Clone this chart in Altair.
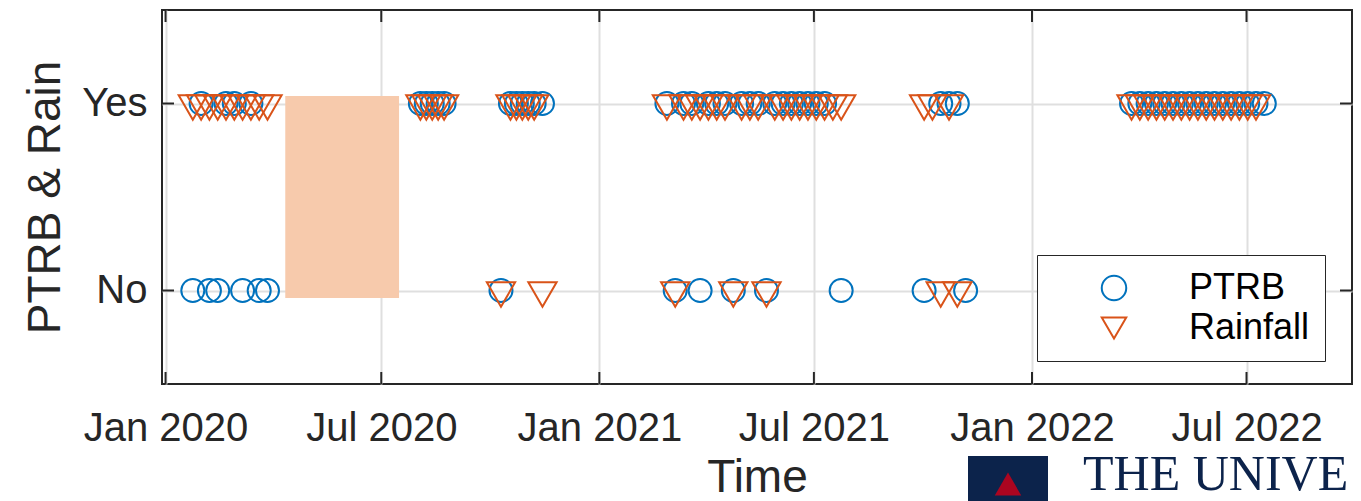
import altair as alt
import pandas as pd

# ---------------- data ----------------
ptrb_dates = [
    "2020-01-24", "2020-01-31", "2020-02-07", "2020-02-14", "2020-02-21", "2020-02-28",
    "2020-03-06", "2020-03-13", "2020-03-20", "2020-03-27",
    "2020-08-03", "2020-08-08", "2020-08-13", "2020-08-18", "2020-08-23",
    "2020-10-10", "2020-10-18", "2020-10-23", "2020-10-28", "2020-11-02", "2020-11-07", "2020-11-14",
    "2021-02-27", "2021-03-06", "2021-03-13", "2021-03-20", "2021-03-27", "2021-04-03",
    "2021-04-10", "2021-04-17", "2021-04-24", "2021-05-01", "2021-05-08", "2021-05-15",
    "2021-05-22", "2021-05-29", "2021-06-05", "2021-06-12", "2021-06-19", "2021-06-26",
    "2021-07-03", "2021-07-10", "2021-07-24",
    "2021-10-02", "2021-10-16", "2021-10-23", "2021-10-30", "2021-11-06",
    "2022-03-26", "2022-04-02", "2022-04-09", "2022-04-16", "2022-04-23", "2022-04-30",
    "2022-05-07", "2022-05-14", "2022-05-21", "2022-05-28", "2022-06-04", "2022-06-11",
    "2022-06-18", "2022-06-25", "2022-07-02", "2022-07-09", "2022-07-16",
]
ptrb_vals = [
    "No", "Yes", "No", "No", "Yes", "Yes", "No", "Yes", "No", "No",
    "Yes", "Yes", "Yes", "Yes", "Yes",
    "No", "Yes", "Yes", "Yes", "Yes", "Yes", "Yes",
    "Yes", "No", "Yes", "Yes", "No", "Yes", "Yes", "Yes", "No", "Yes", "Yes", "Yes",
    "No", "Yes", "Yes", "Yes", "Yes", "Yes", "Yes", "Yes", "No",
    "No", "Yes", "Yes", "Yes", "No",
    "Yes", "Yes", "Yes", "Yes", "Yes", "Yes", "Yes", "Yes", "Yes", "Yes", "Yes", "Yes",
    "Yes", "Yes", "Yes", "Yes", "Yes",
]

rain_dates = [
    "2020-01-24", "2020-01-31", "2020-02-07", "2020-02-14", "2020-02-21", "2020-02-28",
    "2020-03-06", "2020-03-13", "2020-03-20", "2020-03-27",
    "2020-08-03", "2020-08-08", "2020-08-13", "2020-08-18", "2020-08-23",
    "2020-10-10", "2020-10-18", "2020-10-23", "2020-10-28", "2020-11-02", "2020-11-07", "2020-11-14",
    "2021-02-27", "2021-03-06", "2021-03-13", "2021-03-20", "2021-03-27", "2021-04-03",
    "2021-04-10", "2021-04-17", "2021-04-24", "2021-05-01", "2021-05-08", "2021-05-15",
    "2021-05-22", "2021-05-29", "2021-06-05", "2021-06-12", "2021-06-19", "2021-06-26",
    "2021-07-03", "2021-07-10", "2021-07-17", "2021-07-24",
    "2021-10-02", "2021-10-09", "2021-10-16", "2021-10-23", "2021-10-30",
    "2022-03-26", "2022-04-02", "2022-04-09", "2022-04-16", "2022-04-23", "2022-04-30",
    "2022-05-07", "2022-05-14", "2022-05-21", "2022-05-28", "2022-06-04", "2022-06-11",
    "2022-06-18", "2022-06-25", "2022-07-02", "2022-07-09",
]
rain_vals = [
    "Yes", "Yes", "Yes", "Yes", "Yes", "Yes", "Yes", "Yes", "Yes", "Yes",
    "Yes", "Yes", "Yes", "Yes", "Yes",
    "No", "Yes", "Yes", "Yes", "Yes", "Yes", "No",
    "Yes", "No", "Yes", "Yes", "Yes", "Yes", "Yes", "Yes", "No", "Yes", "Yes", "Yes",
    "No", "Yes", "Yes", "Yes", "Yes", "Yes", "Yes", "Yes", "Yes", "Yes",
    "Yes", "Yes", "No", "Yes", "No",
    "Yes", "Yes", "Yes", "Yes", "Yes", "Yes", "Yes", "Yes", "Yes", "Yes", "Yes", "Yes",
    "Yes", "Yes", "Yes", "Yes",
]

gap_start = ["2020-04-11"]
gap_end = ["2020-07-16"]
gap_top = [1.04]
gap_bottom = [-0.04]

series_names = ["PTRB", "Rainfall"]
series_colors = ["#0072BD", "#D95319"]
series_shapes = ["circle", "triangle-down"]

x_domain = ["2019-12-29", "2022-09-28"]
x_tick_dates = ["2020-01-01", "2020-07-01", "2021-01-01", "2021-07-01", "2022-01-01", "2022-07-01"]
y_tick_values = [0, 1]
y_tick_labels = ["No", "Yes"]

logo_words = ["THE UNIVE"]

# ---------------- tables ----------------
def to_num(v):
    return 1 if v == "Yes" else 0

df_p = pd.DataFrame({"date": [d + "T00:00:00" for d in ptrb_dates],
                     "value": [to_num(v) for v in ptrb_vals], "series": "PTRB"})
df_r = pd.DataFrame({"date": [d + "T00:00:00" for d in rain_dates],
                     "value": [to_num(v) for v in rain_vals], "series": "Rainfall"})
df_gap = pd.DataFrame({"start": [d + "T00:00:00" for d in gap_start],
                       "end": [d + "T00:00:00" for d in gap_end],
                       "top": gap_top, "bottom": gap_bottom})
df_xt = pd.DataFrame({"date": [d + "T00:00:00" for d in x_tick_dates]})
df_yt = pd.DataFrame({"value": y_tick_values})

W, H = 1190, 374
FONT = "Liberation Sans"
DARK = "#262626"

def dt(s):
    y, m, d = s.split("-")
    return alt.DateTime(year=int(y), month=int(m), date=int(d))

x_scale = alt.Scale(domain=[dt(d) for d in x_domain], nice=False)
y_scale = alt.Scale(domain=[-0.5, 1.5], nice=False, zero=False)

label_expr = " : ".join(
    [f"datum.value == {v} ? '{l}'" for v, l in zip(y_tick_values[:-1], y_tick_labels[:-1])]
    + [f"'{y_tick_labels[-1]}'"]
)

x_axis = alt.Axis(values=[dt(d) for d in x_tick_dates], format="%b %Y", labelFontSize=40,
                  labelFont=FONT, labelColor=DARK, labelPadding=24, labelFlush=False,
                  labelOverlap=False, grid=True, gridColor="#dfdfdf", gridWidth=2,
                  ticks=False, domain=False, title="Time", titleFont=FONT, titleFontSize=46,
                  titleFontWeight="normal", titleColor=DARK, titleX=W / 2, titleY=107,
                  titleBaseline="alphabetic", titleAlign="center")
y_axis = alt.Axis(values=y_tick_values, labelExpr=label_expr, labelFontSize=40, labelFont=FONT,
                  labelColor=DARK, labelPadding=15, grid=True, gridColor="#dfdfdf", gridWidth=2,
                  ticks=False, domain=False, title="PTRB & Rain", titleFont=FONT,
                  titleFontSize=46, titleFontWeight="normal", titleColor=DARK, titleX=-103,
                  titleY=H / 2, titleAngle=270, titleBaseline="alphabetic", titleAlign="center")

X = lambda f: alt.X(f, type="temporal", scale=x_scale, axis=x_axis)
Y = lambda f: alt.Y(f, type="quantitative", scale=y_scale, axis=y_axis)

color_enc = alt.Color("series:N", scale=alt.Scale(domain=series_names, range=series_colors), title=None)
shape_enc = alt.Shape("series:N", scale=alt.Scale(domain=series_names, range=series_shapes), title=None)

gap = alt.Chart(df_gap).mark_rect(color="#F7CAAC").encode(
    x=X("start"), x2="end", y=Y("top"), y2="bottom")

tick_style = dict(color=DARK, strokeWidth=2)
xt_bottom = alt.Chart(df_xt).mark_rule(**tick_style).encode(
    x=X("date"), y=alt.value(H), y2=alt.value(H - 12))
xt_top = alt.Chart(df_xt).mark_rule(**tick_style).encode(
    x=X("date"), y=alt.value(0), y2=alt.value(12))
yt_left = alt.Chart(df_yt).mark_rule(**tick_style).encode(
    y=Y("value"), x=alt.value(0), x2=alt.value(12))
yt_right = alt.Chart(df_yt).mark_rule(**tick_style).encode(
    y=Y("value"), x=alt.value(W - 12), x2=alt.value(W))

circles = alt.Chart(df_p).mark_point(filled=False, strokeWidth=2, size=530, opacity=1).encode(
    x=X("date"), y=Y("value"), color=color_enc, shape=shape_enc)
triangles = alt.Chart(df_r).mark_point(filled=False, strokeWidth=2, size=800, opacity=1, yOffset=4).encode(
    x=X("date"), y=Y("value"), color=color_enc, shape=shape_enc)

# decorative logo fragment at the bottom-right
df_logo = pd.DataFrame({"t": logo_words})
logo_box = alt.Chart(df_logo).mark_rect(color="#0C234B").encode(
    x=alt.value(968 - 162), x2=alt.value(1048 - 162), y=alt.value(456 - 10), y2=alt.value(520 - 10))
logo_tri = alt.Chart(df_logo).mark_point(shape="triangle-up", filled=True, color="#AB0520",
                                         size=700, opacity=1).encode(
    x=alt.value(1008 - 162), y=alt.value(484 - 10))
logo_text = alt.Chart(df_logo).mark_text(font="Liberation Serif", fontSize=50, color="#0C234B",
                                         align="left", baseline="alphabetic").encode(
    x=alt.value(1083 - 162), y=alt.value(490 - 10), text="t:N")

chart = alt.layer(gap, xt_bottom, xt_top, yt_left, yt_right, circles, triangles,
                  logo_box, logo_tri, logo_text).properties(
    width=W, height=H,
    padding={"left": 154, "top": 2, "right": 1, "bottom": 117},
    autosize=alt.AutoSizeParams(type="none"),
).configure_view(stroke=DARK, strokeWidth=2).configure_legend(
    orient="none", legendX=875, legendY=245, padding=15, fillColor="white",
    strokeColor=DARK, labelFontSize=36, labelFont=FONT, labelColor="black",
    symbolSize=600, symbolStrokeWidth=2, symbolOffset=44, labelOffset=57,
    rowPadding=4, labelLimit=0, cornerRadius=0,
)

chart.save("out.html", embed_options={"renderer": "svg", "actions": False})
